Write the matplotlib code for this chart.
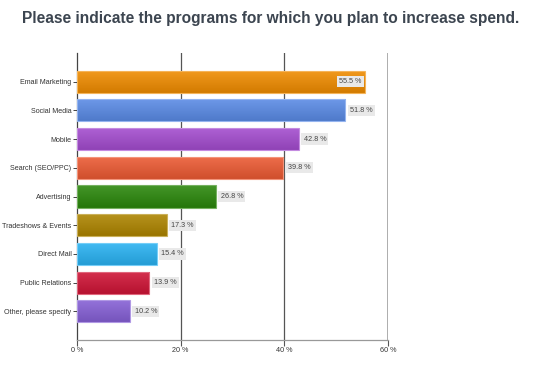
import numpy as np
import matplotlib
matplotlib.use("Agg")
import matplotlib.pyplot as plt
from matplotlib.colors import to_rgb

programs = ["Email Marketing", "Social Media", "Mobile", "Search (SEO/PPC)",
            "Advertising", "Tradeshows & Events", "Direct Mail",
            "Public Relations", "Other, please specify"]
percent = [55.5, 51.8, 42.8, 39.8, 26.8, 17.3, 15.4, 13.9, 10.2]
colors = ["#f08c00", "#5a8be6", "#a44ccf", "#ec5a33", "#2a870b",
          "#ae8500", "#29b2f2", "#cf1436", "#8660d6"]
x_ticks = [0, 20, 40, 60]
x_ticklabels = ["0 %", "20 %", "40 %", "60 %"]

plt.rcParams["font.family"] = ["Liberation Sans", "DejaVu Sans"]

fig = plt.figure(figsize=(5.54, 3.67), dpi=100)
ax = fig.add_axes([77 / 554, 1 - 340 / 367, 311 / 554, 287 / 367])

y = np.arange(len(programs))
bars = ax.barh(y, percent, height=0.77, color=colors, zorder=3)


def shade(c, f):
    r = np.array(to_rgb(c))
    if f > 0:
        return tuple(r + (1 - r) * f)
    return tuple(r * (1 + f))


# vertical gradient per bar, clipped to the bar
for b, c in zip(bars, colors):
    x0, y0 = b.get_x(), b.get_y()
    w, h = b.get_width(), b.get_height()
    t = np.linspace(0, 1, 32)[:, None]
    top = np.array(shade(c, 0.12))
    bot = np.array(shade(c, -0.12))
    img = (top * (1 - t) + bot * t)[:, None, :].repeat(2, axis=1)
    im = ax.imshow(img, extent=[x0, x0 + w, y0 + h, y0], aspect="auto",
                   zorder=3, interpolation="bilinear")
    im.set_clip_path(b)
    b.set_facecolor("none")
    b.set_edgecolor(shade(c, 0.35))
    b.set_linewidth(0.8)
    b.set_zorder(4)

# value labels (first one sits inside the bar end)
for i, v in enumerate(percent):
    if i == 0:
        ax.text(v - 0.6, i, f"{v} %", ha="right", va="center", fontsize=5.2,
                color="#444444", zorder=5,
                bbox=dict(boxstyle="square,pad=0.3", fc="#e9e9e9", ec="none"))
    else:
        ax.text(v + 0.9, i, f"{v} %", ha="left", va="center", fontsize=5.2,
                color="#444444", zorder=5,
                bbox=dict(boxstyle="square,pad=0.3", fc="#e9e9e9", ec="none"))

ax.set_xlim(0, 60)
ax.set_ylim(len(programs), -1)
ax.set_yticks(y)
ax.set_yticklabels(programs, fontsize=5.1, color="#333333")
ax.set_xticks(x_ticks)
ax.set_xticklabels(x_ticklabels, fontsize=5.2, color="#333333")

for xv in [20, 40]:
    ax.axvline(xv, color="#555555", lw=0.9, zorder=1)
ax.axvline(60, color="#a0a0a0", lw=1.2, zorder=1)

for s in ["top", "right"]:
    ax.spines[s].set_visible(False)
ax.spines["left"].set_color("#444444")
ax.spines["left"].set_linewidth(0.9)
ax.spines["bottom"].set_color("#999999")
ax.spines["bottom"].set_linewidth(0.9)
ax.tick_params(axis="y", length=3, width=0.7, color="#444444", pad=1)
ax.tick_params(axis="x", length=4, width=0.8, color="#555555", pad=1)

fig.text(22 / 554, 1 - 18 / 367, "Please indicate the programs for which you plan to increase spend.",
         fontsize=11.2, fontweight="bold", color="#3c4550", va="center", ha="left")

fig.savefig("out.png", dpi=100)
